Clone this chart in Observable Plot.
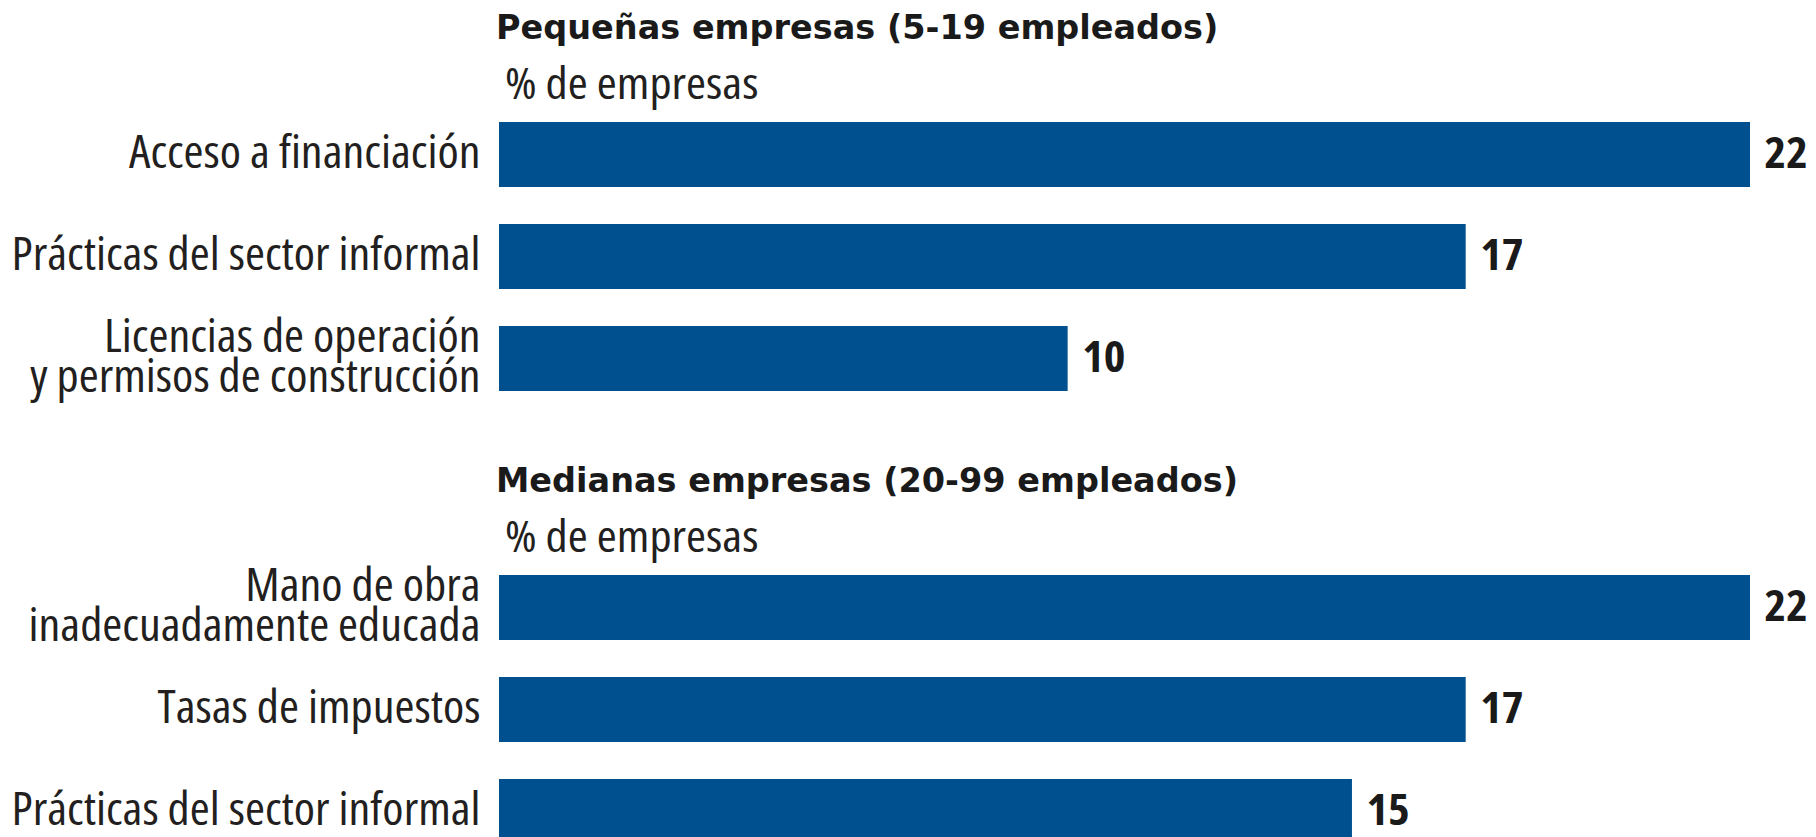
<!DOCTYPE html>
<html>
<head>
<meta charset="utf-8">
<script src="https://cdn.jsdelivr.net/npm/d3@7"></script>
<script src="https://cdn.jsdelivr.net/npm/@observablehq/plot@0.6"></script>
<style>
  html, body { margin: 0; padding: 0; background: #ffffff; }
  #root { position: relative; width: 1816px; height: 837px; overflow: hidden; background: #ffffff; }
  .titulo {
    position: absolute; white-space: nowrap;
    font-family: "DejaVu Sans", sans-serif; font-weight: bold;
    font-size: 33.5px; line-height: 33.5px; color: #1a1a1a;
  }
  .subtitulo {
    position: absolute; white-space: nowrap;
    font-family: "Open Sans", sans-serif;
    font-size: 44px; line-height: 44px; color: #231f20;
    transform-origin: 0 0;
  }
  .panel { position: absolute; left: 0; }
</style>
</head>
<body>
<div id="root"></div>
<script>
// ---- Data ----
const titulos = ["Pequeñas empresas (5-19 empleados)", "Medianas empresas (20-99 empleados)"];
const subtitulo = "% de empresas";

const pequenasCategorias = [
  "Acceso a financiación",
  "Prácticas del sector informal",
  "Licencias de operación\ny permisos de construcción"
];
const pequenasValores = [22, 17, 10];

const medianasCategorias = [
  "Mano de obra\ninadecuadamente educada",
  "Tasas de impuestos",
  "Prácticas del sector informal"
];
const medianasValores = [22, 17, 15];

// ---- Font check: is a condensed face of Open Sans available? ----
function anchoTexto(stretch) {
  const span = document.createElement("span");
  span.style.cssText = "position:absolute;visibility:hidden;white-space:nowrap;font-family:'Open Sans';font-size:100px;font-stretch:" + stretch;
  span.textContent = "Acceso a financiación";
  document.body.appendChild(span);
  const w = span.getBoundingClientRect().width;
  span.remove();
  return w;
}
const anchoNormal = anchoTexto("100%");
const anchoCondensado = anchoTexto("75%");
const tieneCondensada = anchoCondensado < anchoNormal * 0.92;
// horizontal glyph scale: the condensed face is a bit narrower than the original's,
// the normal face is much wider
const escalaEtiquetas = tieneCondensada ? 1.075 : 0.79;
const escalaTextos = tieneCondensada ? 1.1 : 0.8;
const estiramiento = tieneCondensada ? "75%" : "100%";

// ---- Drawing ----
const familia = '"Open Sans", sans-serif';
const root = document.getElementById("root");
const panelStep = 453;

function escalar(el, k) {
  if (k === 1) return;
  const tr = el.getAttribute("transform") || "";
  const x = +el.getAttribute("x") || 0;
  el.setAttribute("transform", `${tr} translate(${x},0) scale(${k},1) translate(${-x},0)`);
}

function panel(cats, vals, title, index) {
  const top = index * panelStep;
  const data = cats.map((c, i) => ({cat: c, value: vals[i]}));

  const t = document.createElement("div");
  t.className = "titulo";
  t.style.left = "496px";
  t.style.top = (top + 11) + "px";
  t.textContent = title;
  root.appendChild(t);

  const s = document.createElement("div");
  s.className = "subtitulo";
  s.style.left = "505px";
  s.style.top = (top + 60) + "px";
  s.style.fontStretch = estiramiento;
  s.style.transform = `scaleX(${escalaTextos})`;
  s.textContent = subtitulo;
  root.appendChild(s);

  const svg = Plot.plot({
    width: 1816,
    height: 453,
    marginLeft: 499,
    marginRight: 66,
    marginTop: 83.5,
    marginBottom: 24.5,
    style: {background: "transparent", color: "#231f20", fontFamily: familia, overflow: "visible"},
    x: {domain: [0, 22], axis: null},
    y: {domain: cats, padding: 0.366, label: null},
    marks: [
      Plot.barX(data, {x: "value", y: "cat", fill: "#00508f"}),
      Plot.axisY({tickSize: 0, tickPadding: 19, fontSize: 45, lineHeight: 0.9, fontFamily: familia, label: null}),
      Plot.text(data, {
        x: "value", y: "cat", text: d => String(d.value),
        dx: 14, textAnchor: "start", fontSize: 42, fontWeight: "bold",
        fontFamily: familia, fill: "#1a1a1a"
      })
    ]
  });
  svg.style.fontStretch = estiramiento;
  svg.querySelectorAll("text").forEach(el => {
    const g = el.closest("g[aria-label]");
    const esValor = g && g.getAttribute("aria-label") === "text";
    escalar(el, esValor ? escalaTextos : escalaEtiquetas);
  });

  const wrap = document.createElement("div");
  wrap.className = "panel";
  wrap.style.top = top + "px";
  wrap.appendChild(svg);
  root.appendChild(wrap);
}

panel(pequenasCategorias, pequenasValores, titulos[0], 0);
panel(medianasCategorias, medianasValores, titulos[1], 1);
</script>
</body>
</html>
